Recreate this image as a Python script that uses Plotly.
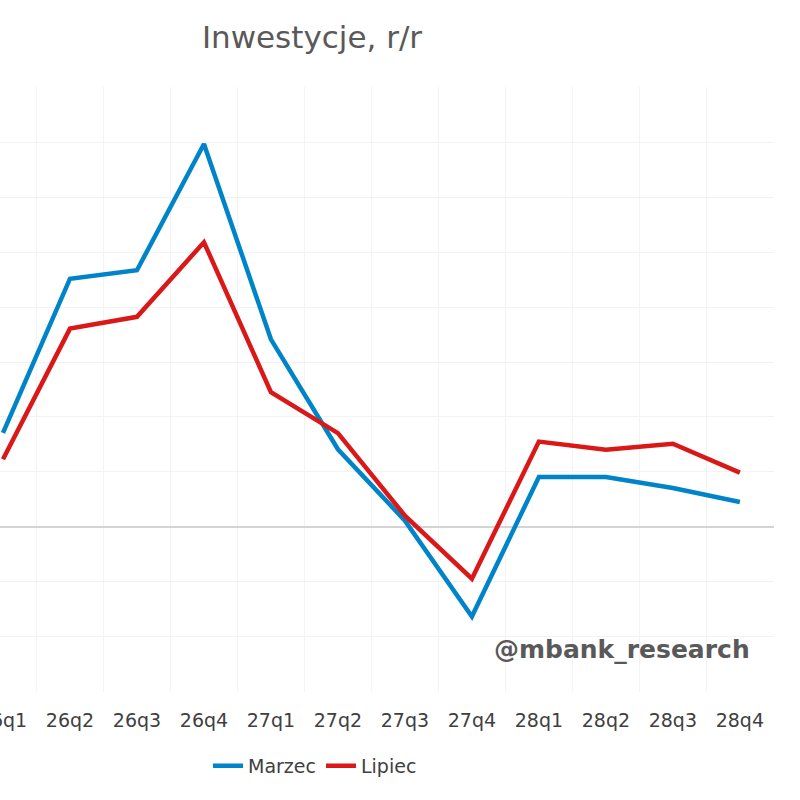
import plotly.graph_objects as go

categories = ["26q1", "26q2", "26q3", "26q4", "27q1", "27q2", "27q3", "27q4",
              "28q1", "28q2", "28q3", "28q4"]
marzec = [3.42, 9.04, 9.35, 13.95, 6.83, 2.82, 0.22, -3.28, 1.81, 1.81, 1.41, 0.90]
lipiec = [2.46, 7.22, 7.65, 10.37, 4.90, 3.41, 0.40, -1.90, 3.10, 2.80, 3.02, 1.97]

xpos = list(range(len(categories)))

fig = go.Figure()
fig.add_trace(go.Scatter(x=xpos, y=marzec, mode="lines", name="Marzec",
                         line=dict(color="#0084C9", width=4.5)))
fig.add_trace(go.Scatter(x=xpos, y=lipiec, mode="lines", name="Lipiec",
                         line=dict(color="#DA1818", width=4.5)))

fig.update_layout(
    width=800, height=800,
    margin=dict(l=0, r=26, t=87, b=108, autoexpand=False),
    paper_bgcolor="white", plot_bgcolor="white",
    font=dict(family="DejaVu Sans", color="#404040"),
    title=dict(text="Inwestycje, r/r", x=0.39, xref="container", xanchor="center",
               y=1 - 37 / 800, yref="container", yanchor="middle",
               font=dict(size=31, color="#595959", family="DejaVu Sans")),
    showlegend=True,
    legend=dict(orientation="h", x=0.407, xanchor="center", y=-0.122, yanchor="middle",
                font=dict(size=19, color="#404040"), bgcolor="rgba(0,0,0,0)"),
    xaxis=dict(range=[-3 / 67, 11.51], tickmode="array", tickvals=xpos, ticktext=categories,
               showgrid=False, zeroline=False, showline=False, automargin=False,
               ticks="outside", ticklen=11, tickcolor="rgba(0,0,0,0)",
               ticklabeloverflow="allow",
               tickfont=dict(size=19, color="#404040"),
               minor=dict(tickmode="linear", tick0=0.5, dtick=1, showgrid=True,
                          gridcolor="#F3F3F3", gridwidth=1, ticks="")),
    yaxis=dict(range=[-6.03, 16.03], dtick=2, tick0=0, showticklabels=False,
               showgrid=True, gridcolor="#F3F3F3", gridwidth=1, automargin=False,
               zeroline=True, zerolinecolor="#D4D4D4", zerolinewidth=2, showline=False),
    annotations=[dict(text="<b>@mbank_research</b>", x=622 / 774, xref="paper",
                      y=(692 - 649) / 605, yref="paper", xanchor="center", yanchor="middle",
                      showarrow=False, font=dict(size=25, color="#595959", family="DejaVu Sans"))],
)

fig.write_html("out.html")
